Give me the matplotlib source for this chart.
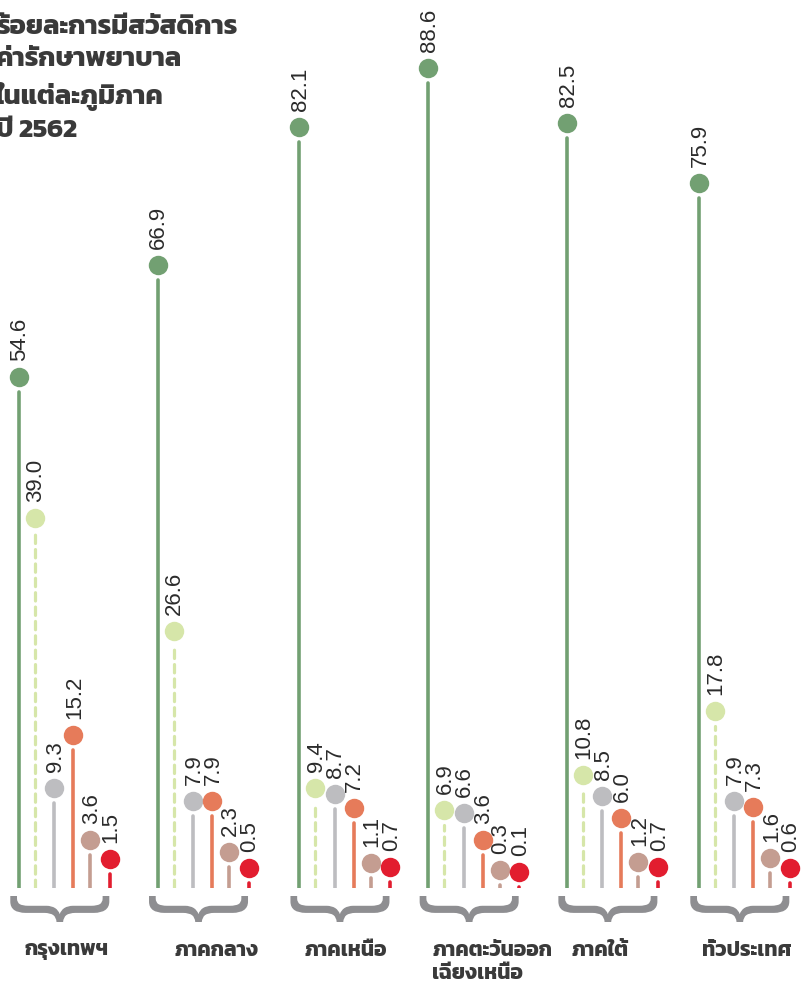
import matplotlib
matplotlib.use("Agg")
import matplotlib.pyplot as plt
import matplotlib.transforms as mtransforms
from matplotlib.patches import PathPatch
from matplotlib.textpath import TextPath
from matplotlib.font_manager import FontProperties

# ── data: share (%) of people by health-care scheme, per region, 2562 ──
regions = ["กรุงเทพฯ", "ภาคกลาง", "ภาคเหนือ", "ภาคตะวันออก\nเฉียงเหนือ", "ภาคใต้", "ทั่วประเทศ"]
scheme_1 = [54.6, 66.9, 82.1, 88.6, 82.5, 75.9]
scheme_2 = [39.0, 26.6, 9.4, 6.9, 10.8, 17.8]
scheme_3 = [9.3, 7.9, 8.7, 6.6, 8.5, 7.9]
scheme_4 = [15.2, 7.9, 7.2, 3.6, 6.0, 7.3]
scheme_5 = [3.6, 2.3, 1.1, 0.3, 1.2, 1.6]
scheme_6 = [1.5, 0.5, 0.7, 0.1, 0.7, 0.6]
title = "ร้อยละการมีสวัสดิการ\nค่ารักษาพยาบาล\nในแต่ละภูมิภาค\nปี 2562"

# ── styling ──
series = [scheme_1, scheme_2, scheme_3, scheme_4, scheme_5, scheme_6]
colors = ["#72a072", "#d6e6a9", "#bdbdc0", "#e67b5a", "#c49d91", "#e21d2f"]
dashed = [False, True, False, False, False, False]
group_x = [0, 1.02, 2.06, 3.01, 4.03, 5.0]          # cluster positions
offsets = [0, 0.118, 0.26, 0.40, 0.525, 0.67]       # stick positions inside a cluster
label_dx = [0.04, 0.12, 0.04, 0.03, 0.03, 0.02]     # region label left edge
THAI = ["Kanit", "DejaVu Sans"]
NUM = ["Liberation Sans", "DejaVu Sans"]
INK = "#3a3a3a"

fig = plt.figure(figsize=(8.12, 9.88), dpi=100)
ax = fig.add_axes([0, 100 / 988, 1, 888 / 988])
ax.set_xlim(-19 / 136, 793 / 136)
ax.set_ylim(0, 888 / 9.09)
ax.axis("off")

circle_tr = mtransforms.offset_copy(ax.transData, fig, x=0, y=15, units="dots")
label_tr = mtransforms.offset_copy(ax.transData, fig, x=1, y=31, units="dots")

for s, vals in enumerate(series):
    for g, v in enumerate(vals):
        x = group_x[g] + offsets[s]
        if dashed[s]:
            ax.plot([x, x], [0, v], color=colors[s], lw=2.3, linestyle=(0, (2.6, 1.9)),
                    dash_capstyle="round", zorder=2)
        else:
            ax.plot([x, x], [0, v], color=colors[s], lw=2.6, solid_capstyle="round", zorder=2)
        ax.plot([x], [v], marker="o", ms=14, color=colors[s], mec="none",
                transform=circle_tr, clip_on=False, zorder=3)
        ax.text(x, v, f"{v:.1f}", transform=label_tr, rotation=90, ha="center", va="bottom",
                fontsize=16, family=NUM, color="#2b2b2b", clip_on=False)

# curly braces under each cluster
brace = TextPath((0, 0), "{", size=1, prop=FontProperties(family="Liberation Sans"))
bb = brace.get_extents()
norm = (mtransforms.Affine2D()
        .translate(-(bb.x0 + bb.x1) / 2, -(bb.y0 + bb.y1) / 2)
        .scale(1 / bb.width, 1 / bb.height)
        .rotate_deg(90))
blend = mtransforms.blended_transform_factory(ax.transData, ax.transAxes)
for g in range(len(regions)):
    xc = group_x[g] + 0.3
    tr = (norm + mtransforms.Affine2D().scale(99, 26).translate(0, -21)
          + mtransforms.ScaledTranslation(xc, 0, blend))
    fig.patches.append(PathPatch(brace, transform=tr, facecolor="#8e8e91", edgecolor="none"))

# region labels
for g, name in enumerate(regions):
    ax.annotate(name, xy=(group_x[g] + label_dx[g], 0), xycoords=blend,
                xytext=(0, -54), textcoords="offset pixels", ha="left", va="top",
                fontsize=15, fontweight="bold", family=THAI, color=INK,
                linespacing=1.35, annotation_clip=False)

fig.text(-4 / 812, 1 - 16 / 988, title, ha="left", va="top", fontsize=19.5, fontweight="bold",
         family=THAI, color=INK, linespacing=1.45)

fig.savefig("out.png", dpi=100)
